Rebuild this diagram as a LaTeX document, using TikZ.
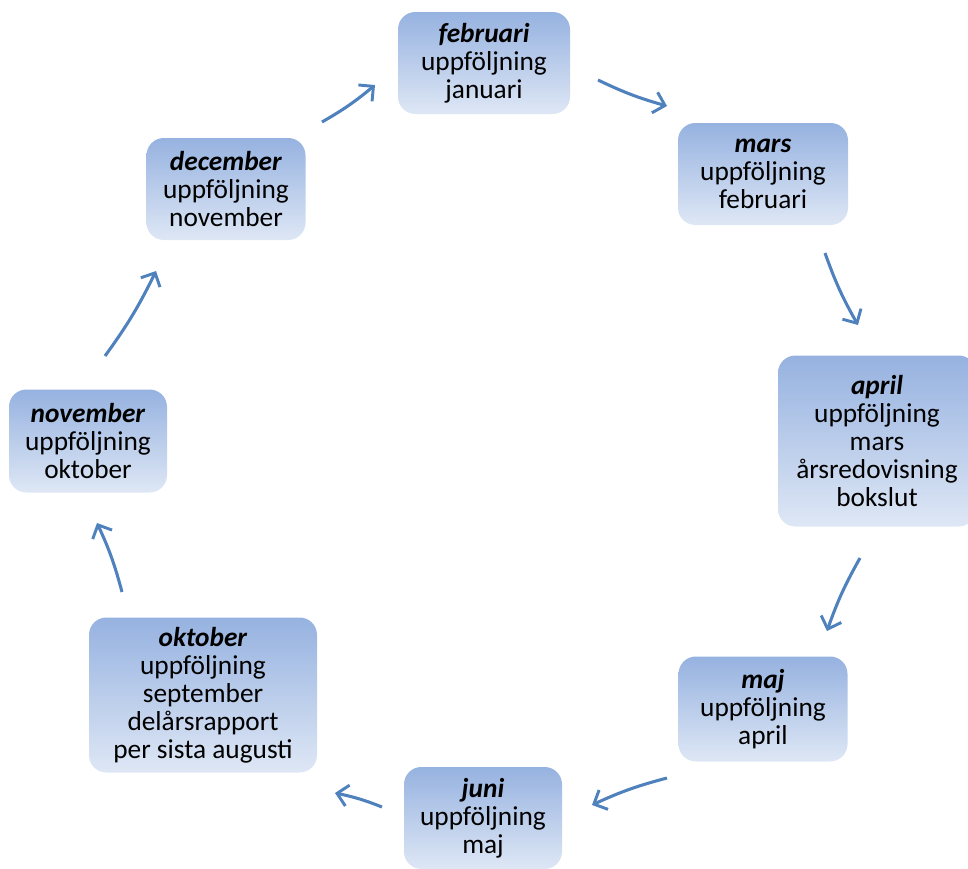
\documentclass[tikz,border=0pt]{standalone}
\usepackage{fontspec}
\setmainfont{Carlito}
\usetikzlibrary{arrows.meta}
\definecolor{boxtop}{HTML}{96B2E0}
\definecolor{boxbot}{HTML}{DEE7F5}
\definecolor{arrowblue}{HTML}{4F81BD}
\tikzset{
  monthbox/.style={rounded corners=13pt, top color=boxtop, bottom color=boxbot,
    draw=none, align=center, inner sep=0pt,
    font=\fontsize{20.5}{21}\selectfont, text=black},
  cyclearrow/.style={draw=arrowblue, line width=2.3pt,
    -{Straight Barb[length=8pt,width=16pt,line width=2.2pt]}, bend right=5}
}
\begin{document}
\begin{tikzpicture}[x=0.75pt,y=-0.75pt]
\useasboundingbox (0,0) rectangle (968,868);
\clip (0,0) rectangle (968,868);
% boxes
\node[monthbox, minimum width=129pt, minimum height=76.5pt] (feb) at (484,63)
  {\textbf{\textit{februari}}\\uppföljning\\januari};
\node[monthbox, minimum width=127.5pt, minimum height=76.5pt] (mar) at (763,174)
  {\textbf{\textit{mars}}\\uppföljning\\februari};
\node[monthbox, minimum width=148.5pt, minimum height=128.25pt] (apr) at (877,441)
  {\textbf{\textit{april}}\\uppföljning\\mars\\årsredovisning\\bokslut};
\node[monthbox, minimum width=126.75pt, minimum height=78.75pt] (maj) at (763,709)
  {\textbf{\textit{maj}}\\uppföljning\\april};
\node[monthbox, minimum width=118.5pt, minimum height=76.5pt] (jun) at (483,818)
  {\textbf{\textit{juni}}\\uppföljning\\maj};
\node[monthbox, minimum width=171pt, minimum height=116.25pt] (okt) at (203,695)
  {\textbf{\textit{oktober}}\\uppföljning\\september\\delårsrapport\\per sista augusti};
\node[monthbox, minimum width=118.5pt, minimum height=77.25pt] (nov) at (88,441)
  {\textbf{\textit{november}}\\uppföljning\\oktober};
\node[monthbox, minimum width=119.25pt, minimum height=76.5pt] (dec) at (226,189)
  {\textbf{\textit{december}}\\uppföljning\\november};
% arrow end points
\coordinate (febS) at (598,80);  \coordinate (marE) at (667,106);
\coordinate (marS) at (825,253); \coordinate (aprE) at (858,325);
\coordinate (aprS) at (860,558); \coordinate (majE) at (827,631);
\coordinate (majS) at (667,778); \coordinate (junE) at (592,805);
\coordinate (junS) at (382,807); \coordinate (oktE) at (335,793);
\coordinate (oktS) at (122,592); \coordinate (novE) at (97,523);
\coordinate (novS) at (105,356); \coordinate (decE) at (156,271);
\coordinate (decS) at (322,122); \coordinate (febE) at (375,85);
% arrows
\draw[cyclearrow] (febS) to (marE);
\draw[cyclearrow] (marS) to (aprE);
\draw[cyclearrow] (aprS) to (majE);
\draw[cyclearrow] (majS) to (junE);
\draw[cyclearrow] (junS) to (oktE);
\draw[cyclearrow] (oktS) to (novE);
\draw[cyclearrow] (novS) to (decE);
\draw[cyclearrow] (decS) to (febE);
\end{tikzpicture}
\end{document}
